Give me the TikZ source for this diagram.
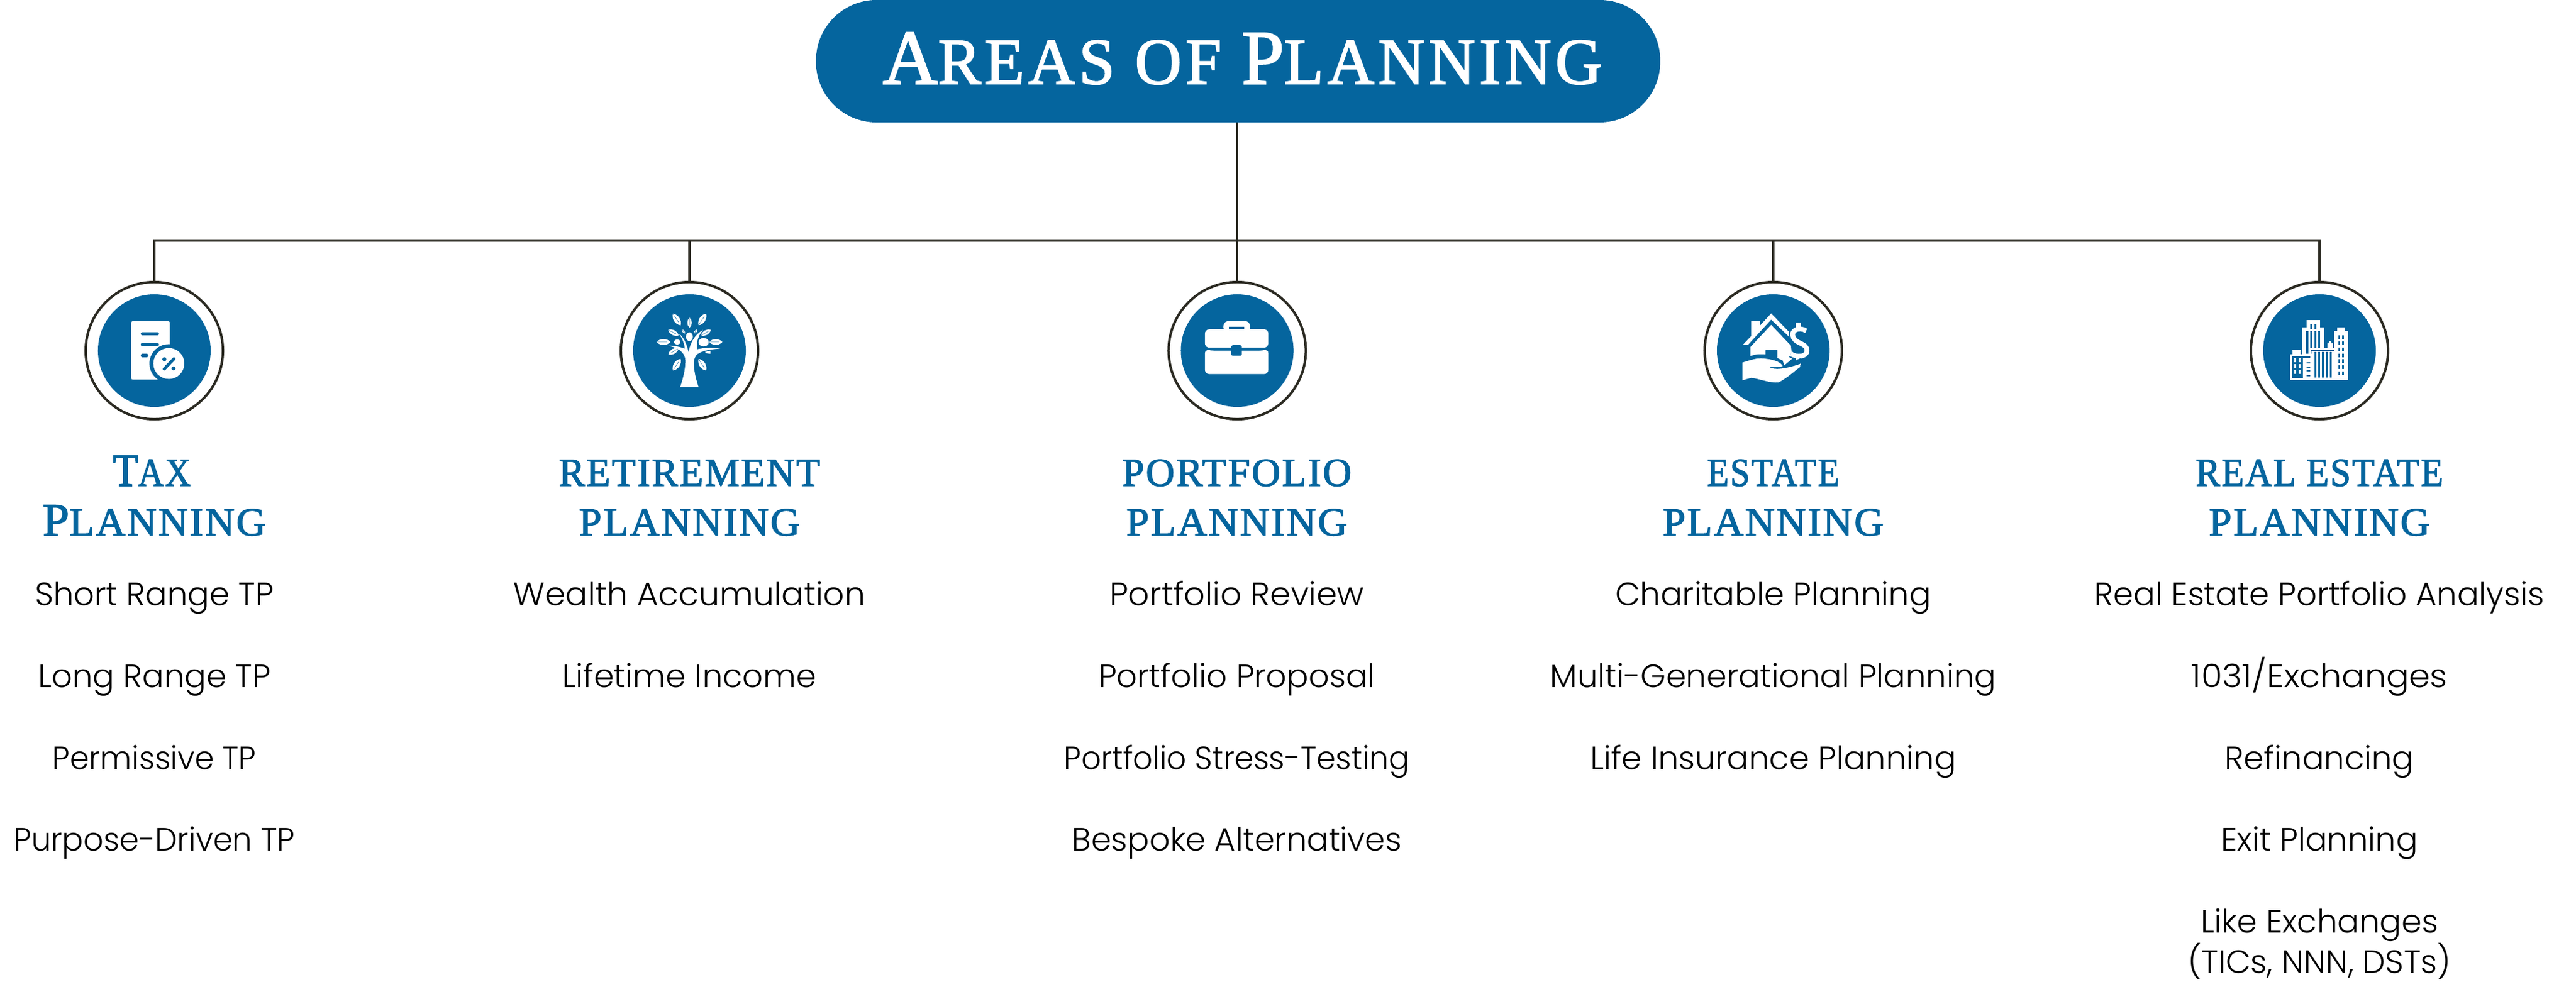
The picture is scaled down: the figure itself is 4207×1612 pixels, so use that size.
\documentclass[tikz,border=0pt]{standalone}
\usepackage{fontspec}
\usetikzlibrary{calc}
\setmainfont{Liberation Serif}
\newfontfamily\bodyf{Poppins Light}
\newfontfamily\headf[FakeBold=2,LetterSpace=4]{Liberation Serif}
\newfontfamily\titlef[FakeBold=2,LetterSpace=6]{Liberation Serif}
\definecolor{planblue}{HTML}{05659E}
\definecolor{planline}{HTML}{2B2A22}
\tikzset{
  pill/.style={fill=planblue,minimum width=13.78cm,minimum height=2cm,rounded corners=0.99cm,inner sep=0,outer sep=0},
  ttext/.style={anchor=base,text=white,inner sep=0,font=\titlef\fontsize{36}{36}\selectfont},
  ring/.style={circle,draw=planline,line width=1.14pt,minimum size=2.24cm,inner sep=0,outer sep=0},
  disk/.style={circle,fill=planblue,minimum size=1.84cm,inner sep=0,outer sep=0},
  conn/.style={draw=planline,line width=1.05pt},
  head/.style={anchor=base,text=planblue,inner sep=0,font=\headf\fontsize{18.5}{18.5}\selectfont},
  item/.style={anchor=base,text=black,inner sep=0,font=\bodyf\fontsize{15}{15}\selectfont},
  crop/.style 2 args={shift={(#1,#2)},x=0.0033333cm,y=-0.0033333cm},
  lf/.style={fill=white},
  rib/.style={draw=planblue,line width=0.15pt}
}
\newcommand{\tleaf}[2]{\fill[lf] (#1) to[bend left=48] (#2) to[bend left=48] (#1);\draw[rib] (#1) -- ($(#1)!0.75!(#2)$);}
\newcommand{\bigc}[1]{{\fontsize{21.5}{21.5}\selectfont #1}}
\newcommand{\bigt}[1]{{\fontsize{36}{36}\selectfont #1}}
\newcommand{\smt}[1]{{\fontsize{30.5}{30.5}\selectfont #1}}
\newcommand{\sq}[2]{\scalebox{#1}[1]{#2}}
\begin{document}
\begin{tikzpicture}[x=0.01cm,y=-0.01cm]
\useasboundingbox (0,0) rectangle (4207,1612);
% title
\node[pill] (title) at (2022,100) {};
\node[ttext] (titletext) at (2029,137) {\sq{0.985}{\bigt{A}\smt{REAS OF }\bigt{P}\smt{LANNING}}};
% rings
\node[ring] (r1) at (252,573) {};
\node[ring] (r2) at (1126,573) {};
\node[ring] (r3) at (2020.5,573) {};
\node[ring] (r4) at (2896,573) {};
\node[ring] (r5) at (3788,573) {};
\node[disk] (d1) at (252,573) {};
\node[disk] (d2) at (1126,573) {};
\node[disk] (d3) at (2020.5,573) {};
\node[disk] (d4) at (2896,573) {};
\node[disk] (d5) at (3788,573) {};
% connectors
\coordinate (b1) at (r1 |- 0,393);
\coordinate (b2) at (r2 |- 0,393);
\coordinate (b4) at (r4 |- 0,393);
\coordinate (b5) at (r5 |- 0,393);
\draw[conn] (r1.north) -- (b1) -- (b5) -- (r5.north);
\draw[conn] (r2.north) -- (b2);
\draw[conn] (r4.north) -- (b4);
\draw[conn] (title.south -| r3.north) -- (r3.north);
% tax icon
\begin{scope}[crop={100}{430}]
\fill[white,rounded corners=0.8pt] (343,285) rectangle (533,572);
\foreach \yy/\xe in {347/480,401/480,454/428}{\draw[planblue,line width=1.7pt,line cap=round] (399,\yy) -- (\xe-9,\yy);}
\fill[planblue] (528,493) circle[radius=95];
\fill[white] (528,493) circle[radius=76];
\draw[planblue,line width=1.4pt,line cap=round] (505,520) -- (553,470);
\fill[planblue] (506,472) circle[radius=10] (551,517) circle[radius=10];
\end{scope}
% tree icon
\begin{scope}[crop={1040}{490}]
\tleaf{177,68}{215,125}
\tleaf{259,87}{259,137}
\tleaf{303,125}{340,68}
\tleaf{222,145}{236,165}
\tleaf{282,165}{296,145}
\tleaf{154,147}{205,175}
\tleaf{315,175}{363,147}
\tleaf{97,207}{165,207}
\tleaf{355,207}{420,207}
\tleaf{205,238}{155,268}
\tleaf{177,347}{215,290}
\tleaf{303,290}{340,347}
\fill[white] (258,181) ellipse[x radius=17,y radius=21];
\fill[white] (198,207) ellipse[x radius=16,y radius=13];
\fill[white] (328,208) ellipse[x radius=25,y radius=21];
\fill[white] (213,428) .. controls (232,370) and (240,330) .. (238,290)
  .. controls (232,258) and (205,232) .. (148,226)
  .. controls (180,222) and (215,232) .. (236,240)
  .. controls (232,210) and (222,185) .. (205,165)
  .. controls (228,180) and (245,215) .. (254,258)
  .. controls (262,210) and (285,170) .. (325,148)
  .. controls (300,175) and (292,210) .. (295,243)
  .. controls (330,235) and (370,233) .. (410,240)
  .. controls (360,242) and (320,250) .. (295,268)
  .. controls (285,280) and (278,295) .. (280,320)
  .. controls (282,360) and (292,395) .. (303,428) -- cycle;
\fill[white] (335,255) -- (362,250) -- (362,265) -- (340,262) -- cycle;
\end{scope}
% briefcase icon
\begin{scope}[crop={1880}{430}]
\fill[white,rounded corners=2.2pt] (355,340) -- (355,285) -- (485,285) -- (485,340) -- cycle;
\fill[planblue] (381,312) rectangle (458,325);
\fill[white,rounded corners=2pt] (264,325) rectangle (575,415);
\fill[white,rounded corners=2pt] (264,422) -- (264,545) -- (575,545) -- (575,422) -- (545,430) -- (295,430) -- cycle;
\fill[planblue,rounded corners=0.8pt] (393,403) rectangle (445,455);
\end{scope}
% estate icon
\begin{scope}[crop={2810}{490}]
\fill[white] (108,222) -- (150,178) -- (150,103) -- (192,103) -- (192,128) -- (248,67) -- (340,162) -- (345,190) -- (248,97) -- (133,222) -- cycle;
\fill[white] (248,123) -- (345,225) -- (352,288) -- (312,322) -- (305,298) -- (278,285) -- (278,247) -- (220,247) -- (220,268) .. controls (195,265) and (170,267) .. (146,276) -- (146,232) -- cycle;
\draw[planblue,line width=3.4pt] (420,152) .. controls (385,130) and (340,150) .. (357,185) .. controls (372,218) and (425,212) .. (424,250) .. controls (422,280) and (375,285) .. (345,265);
\draw[white,line width=2.2pt] (420,152) .. controls (385,130) and (340,150) .. (357,185) .. controls (372,218) and (425,212) .. (424,250) .. controls (422,280) and (375,285) .. (345,265);
\fill[white] (368,112) rectangle (394,145);
\fill[white] (368,285) rectangle (392,318);
\fill[planblue] (300,330) -- (395,285) -- (395,312) -- (340,335) -- cycle;
\fill[white] (107,308) .. controls (150,295) and (175,285) .. (210,288) .. controls (250,292) and (290,300) .. (305,325) .. controls (285,332) and (255,330) .. (235,328) .. controls (265,350) and (330,335) .. (390,315) -- (390,330) .. controls (355,355) and (325,385) .. (285,405) .. controls (240,410) and (195,388) .. (150,383) -- (107,395) -- cycle;
\end{scope}
% city icon
\begin{scope}[crop={3660}{430}]
\fill[white] (320,280) rectangle (388,315);
\fill[white] (300,315) rectangle (408,450);
\foreach \xx in {339,359}{\fill[planblue] (\xx,300) rectangle +(10,23);}
\fill[planblue] (319,335) rectangle (329,445);
\foreach \xx in {339,359,378}{\fill[planblue] (\xx,335) rectangle +(10,83);}
\fill[white] (458,333) rectangle (525,575);
\fill[white] (471,314) rectangle (512,333);
\foreach \yy in {355,385,415,445,473,502,532}{\foreach \xx in {477,497}{\fill[planblue] (\xx,\yy) rectangle +(8,18);}}
\fill[white] (422,395) rectangle (452,420);
\fill[white] (437,388) circle[radius=6];
\fill[white] (340,418) rectangle (458,575);
\fill[planblue] (348,426) rectangle (456,433);
\foreach \xx in {359,378,397,417,436}{\fill[planblue] (\xx,437) rectangle +(10,126);}
\fill[planblue] (341,426) rectangle (348,445);
\fill[white] (241,447) rectangle (340,575);
\fill[white] (251,428) rectangle (290,447);
\fill[white] (346,433) rectangle (348,575);
\fill[planblue] (250,456) rectangle (340,465);
\fill[planblue] (250,456) rectangle (302,565);
\foreach \yy in {467,497,526}{\foreach \xx in {262,281}{\fill[white] (\xx,\yy) rectangle +(9,19);}}
\foreach \yy in {487,507,527,550}{\fill[planblue] (320,\yy) rectangle +(18,6);}
\end{scope}
% headings
\node[head] (h1a) at (248,794) {\sq{0.89}{\bigc{T}AX}};
\node[head] (h1b) at (252,875) {\sq{1.03}{\bigc{P}LANNING}};
\node[head] (h2a) at (1126,794) {\sq{0.98}{RETIREMENT}};
\node[head] (h2b) at (1126,875) {\sq{1.03}{PLANNING}};
\node[head] (h3a) at (2020,794) {PORTFOLIO};
\node[head] (h3b) at (2020,875) {\sq{1.03}{PLANNING}};
\node[head] (h4a) at (2896,794) {\sq{0.89}{ESTATE}};
\node[head] (h4b) at (2896,875) {\sq{1.03}{PLANNING}};
\node[head] (h5a) at (3788,794) {\sq{0.92}{REAL ESTATE}};
\node[head] (h5b) at (3788,875) {\sq{1.03}{PLANNING}};
% items
\node[item] (a1) at (252,989) {Short Range TP};
\node[item] (a2) at (252,1123) {Long Range TP};
\node[item] (a3) at (252,1257) {\sq{0.96}{Permissive TP}};
\node[item] (a4) at (252,1390) {\sq{0.97}{Purpose-Driven TP}};
\node[item] (b1t) at (1126,989) {\sq{1.02}{Wealth Accumulation}};
\node[item] (b2t) at (1126,1123) {Lifetime Income};
\node[item] (c1) at (2020,989) {\sq{1.025}{Portfolio Review}};
\node[item] (c2) at (2020,1123) {Portfolio Proposal};
\node[item] (c3) at (2020,1257) {\sq{0.95}{Portfolio Stress-Testing}};
\node[item] (c4) at (2020,1390) {Bespoke Alternatives};
\node[item] (e1) at (2896,989) {Charitable Planning};
\node[item] (e2) at (2896,1123) {Multi-Generational Planning};
\node[item] (e3) at (2896,1257) {Life Insurance Planning};
\node[item] (f1) at (3788,989) {Real Estate Portfolio Analysis};
\node[item] (f2) at (3788,1123) {\sq{1.05}{1031/Exchanges}};
\node[item] (f3) at (3788,1257) {Refinancing};
\node[item] (f4) at (3788,1390) {Exit Planning};
\node[item] (f5) at (3788,1524) {Like Exchanges};
\node[item] (f6) at (3788,1590) {(TICs, NNN, DSTs)};
\end{tikzpicture}
\end{document}
